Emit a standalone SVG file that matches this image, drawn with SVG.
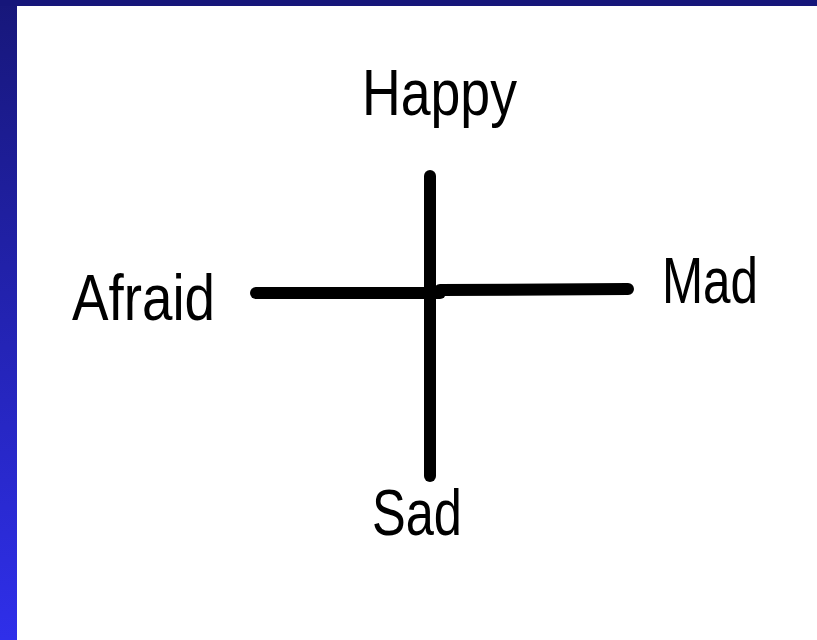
<svg xmlns="http://www.w3.org/2000/svg" width="817" height="640" viewBox="0 0 817 640">
  <defs>
    <linearGradient id="sideGrad" x1="0" y1="0" x2="0" y2="1">
      <stop offset="0" stop-color="#17177a"/>
      <stop offset="1" stop-color="#2f2fea"/>
    </linearGradient>
    <style>
      .label { font-family: "Liberation Sans", Arial, sans-serif; font-size: 64px; fill: #000; }
      .axis { stroke: #000; stroke-width: 12; stroke-linecap: round; fill: none; }
    </style>
  </defs>
  <rect x="0" y="0" width="817" height="640" fill="#ffffff"/>
  <rect x="0" y="0" width="17" height="640" fill="url(#sideGrad)"/>
  <rect x="0" y="0" width="817" height="6" fill="#16167a"/>

  <g id="connectors">
    <line class="axis" x1="430" y1="176" x2="430" y2="476"/>
    <line class="axis" x1="256" y1="293" x2="440" y2="293"/>
    <line class="axis" x1="440" y1="290" x2="628" y2="289"/>
  </g>

  <g id="happy">
    <text class="label" x="362" y="115" textLength="155" lengthAdjust="spacingAndGlyphs">Happy</text>
  </g>
  <g id="afraid">
    <text class="label" x="72" y="320" textLength="143" lengthAdjust="spacingAndGlyphs">Afraid</text>
  </g>
  <g id="mad">
    <text class="label" x="662" y="303" textLength="96" lengthAdjust="spacingAndGlyphs">Mad</text>
  </g>
  <g id="sad">
    <text class="label" x="372" y="535" textLength="90" lengthAdjust="spacingAndGlyphs">Sad</text>
  </g>
</svg>
